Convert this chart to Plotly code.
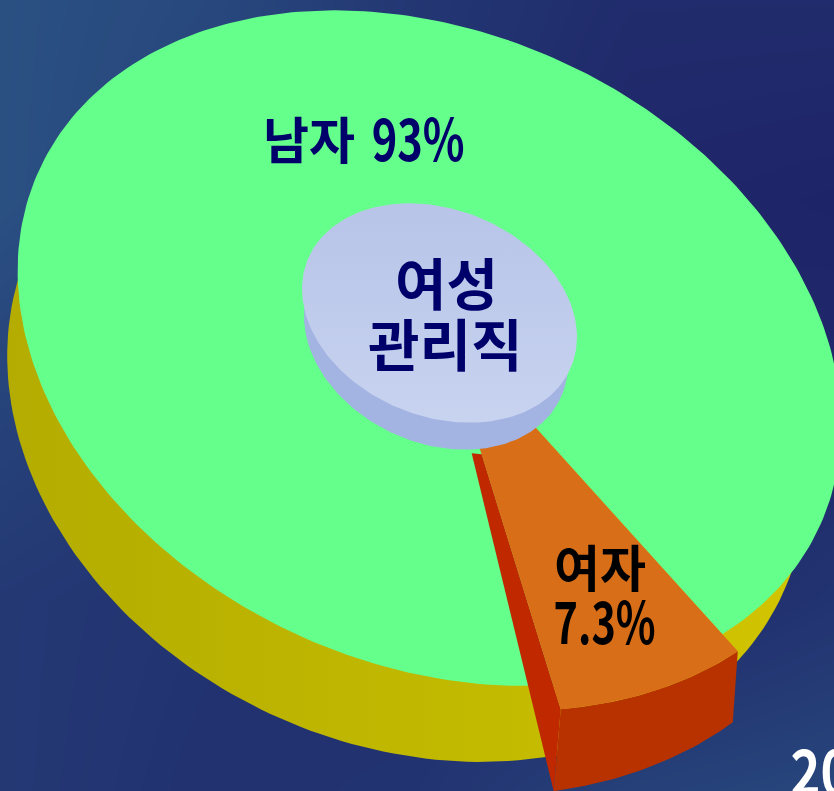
# -*- coding: utf-8 -*-
import numpy as np
import plotly.graph_objects as go

W, H = 834, 791

# dati
labels = ['남자', '여자']
shares = [93.0, 7.3]
share_texts = ['93%', '7.3%']
center_lines = ['여성', '관리직']
corner_text = '20'

# sfondo: griglia grezza di luminosità
bg_x = [0, 210, 420, 630, 834]
bg_y = [0, 200, 400, 600, 791]
bg_z = [
    [0.85, 0.70, 0.35, 0.15, 0.15],
    [0.85, 0.60, 0.30, 0.05, 0.00],
    [0.60, 0.40, 0.25, 0.05, 0.10],
    [0.40, 0.30, 0.20, 0.10, 0.30],
    [0.40, 0.25, 0.30, 0.55, 0.65],
]
BG_SCALE = [[0, 'rgb(30,36,104)'], [1, 'rgb(42,80,130)']]

GREEN = 'rgb(101,255,139)'
NAVY = '#00006a'
FONT = 'Noto Sans CJK KR'

# geometria del disco in prospettiva (pixel)
TOP_C = np.array([429.4, 348.1])
TOP_L = np.array([[411.8, 0.0], [77.3, 328.8]])
BOT_C = np.array([406.8, 419.6])
BOT_L = np.array([[399.6, 0.0], [63.8, 336.3]])
PIVOT = np.array([441.0, 323.0])
HUB_C = np.array([439.5, 313.0])
HUB_L = np.array([[137.5, 0.0], [24.0, 107.0]])
HUB_SIDE_C = np.array([436.0, 340.0])
HUB_SIDE_L = np.array([[132.0, 0.0], [24.0, 107.0]])
START_DEG = 49.0
WEDGE_R_A, WEDGE_R_B = 1.055, 1.067
DEPTH_A = np.array([-5.0, 71.0])   # spessore lato destro della fetta
DEPTH_B = np.array([-7.0, 82.0])   # spessore lato sinistro

# le cifre del riferimento sono condensate: larghezza in pixel di ciascun testo
CONDENSE_JS = """
document.body.style.margin='0';document.body.style.overflow='hidden';
var widths={'93%':93,'7.3%':102,'20':60};
document.querySelectorAll('text.annotation-text').forEach(function(t){
  var w=widths[t.textContent];
  if(w){t.setAttribute('lengthAdjust','spacingAndGlyphs');t.setAttribute('textLength',w);}
});
"""


def ellipse(c, L, n=240):
    t = np.linspace(0, 2 * np.pi, n)
    p = c + np.column_stack([np.cos(t), np.sin(t)]) @ L.T
    return p[:, 0], p[:, 1]


def ray_to_rim(deg, scale=1.0):
    # raggio dal perno fino al bordo dell'ellisse, in coordinate normalizzate
    a = np.linalg.solve(TOP_L, PIVOT - TOP_C)
    d = np.array([np.cos(np.radians(deg)), np.sin(np.radians(deg))])
    b = a @ d
    r = -b + np.sqrt(b * b - a @ a + 1.0)
    return PIVOT + (TOP_L @ (d * r)) * scale


def poly(xs, ys, color=None, **kw):
    if color is not None:
        kw['fillcolor'] = color
    return go.Scatter(x=xs, y=ys, mode='lines', fill='toself', line=dict(width=0), hoverinfo='skip', **kw)


women_sweep = 360.0 * shares[1] / 100.0
men_sweep = 360.0 - women_sweep
end_deg = START_DEG + women_sweep

fig = go.Figure()

fig.add_trace(go.Heatmap(x=bg_x, y=bg_y, z=bg_z, colorscale=BG_SCALE, zsmooth='best',
                         showscale=False, hoverinfo='skip'))

# fianco giallo
bx, by = ellipse(BOT_C, BOT_L)
fig.add_trace(poly(bx, by, fillgradient=dict(type='horizontal', colorscale=[
    [0, 'rgb(180,172,0)'], [0.6, 'rgb(194,186,0)'], [1, 'rgb(210,196,0)']])))

# fetta uomini
men_deg = np.linspace(end_deg, end_deg + men_sweep, 300)
men_pts = np.array([PIVOT] + [ray_to_rim(a) for a in men_deg] + [PIVOT])
fig.add_trace(poly(men_pts[:, 0], men_pts[:, 1], GREEN))

# fetta donne, estratta e con spessore
w_deg = np.linspace(START_DEG, end_deg, 40)
k = np.linspace(0, 1, len(w_deg))
arc = np.array([ray_to_rim(a, WEDGE_R_A + (WEDGE_R_B - WEDGE_R_A) * f) for a, f in zip(w_deg, k)])
k = k[:, None]
arc_low = arc + DEPTH_A * (1 - k) + DEPTH_B * k

side_top = arc[-1]
side_low = arc_low[-1]
inner_a = side_top + (PIVOT - side_top) * 0.66
inner_b = inner_a + np.array([-10.0, -1.0])
side = np.array([inner_a, side_top, side_low, inner_b, inner_a])
fig.add_trace(poly(side[:, 0], side[:, 1], 'rgb(192,40,0)'))

front = np.vstack([arc, arc_low[::-1], arc[:1]])
fig.add_trace(poly(front[:, 0], front[:, 1], 'rgb(184,50,0)'))

top = np.vstack([[PIVOT], arc, [PIVOT]])
fig.add_trace(poly(top[:, 0], top[:, 1], 'rgb(217,110,25)'))

# mozzo centrale
hx, hy = ellipse(HUB_SIDE_C, HUB_SIDE_L)
fig.add_trace(poly(hx, hy, 'rgb(163,179,226)'))
hx, hy = ellipse(HUB_C, HUB_L)
fig.add_trace(poly(hx, hy, fillgradient=dict(type='vertical', colorscale=[
    [0, 'rgb(200,211,240)'], [1, 'rgb(184,196,232)']])))


def label(x, y, text, size, color):
    fig.add_annotation(x=x, y=y, text=text, showarrow=False, xanchor='center', yanchor='middle',
                       font=dict(family=FONT, size=size, color=color, weight='bold'))


label(309, 137, labels[0], 50, NAVY)
label(418, 136, share_texts[0], 58, NAVY)
label(446, 280, center_lines[0], 56, NAVY)
label(445, 341, center_lines[1], 56, NAVY)
label(600, 565, labels[1], 50, '#000000')
label(604, 619, share_texts[1], 58, '#000000')
fig.add_annotation(x=782, y=768, text=corner_text, showarrow=False, xanchor='left', yanchor='middle',
                   font=dict(family=FONT, size=62, color='#ffffff', weight='bold'))

fig.update_layout(
    width=W, height=H, margin=dict(l=0, r=0, t=0, b=0), showlegend=False,
    paper_bgcolor='rgb(30,36,104)', plot_bgcolor='rgb(30,36,104)',
    xaxis=dict(range=[0, W], visible=False, fixedrange=True),
    yaxis=dict(range=[H, 0], visible=False, fixedrange=True),
)

fig.write_html('out.html', config=dict(displayModeBar=False), post_script=CONDENSE_JS)
